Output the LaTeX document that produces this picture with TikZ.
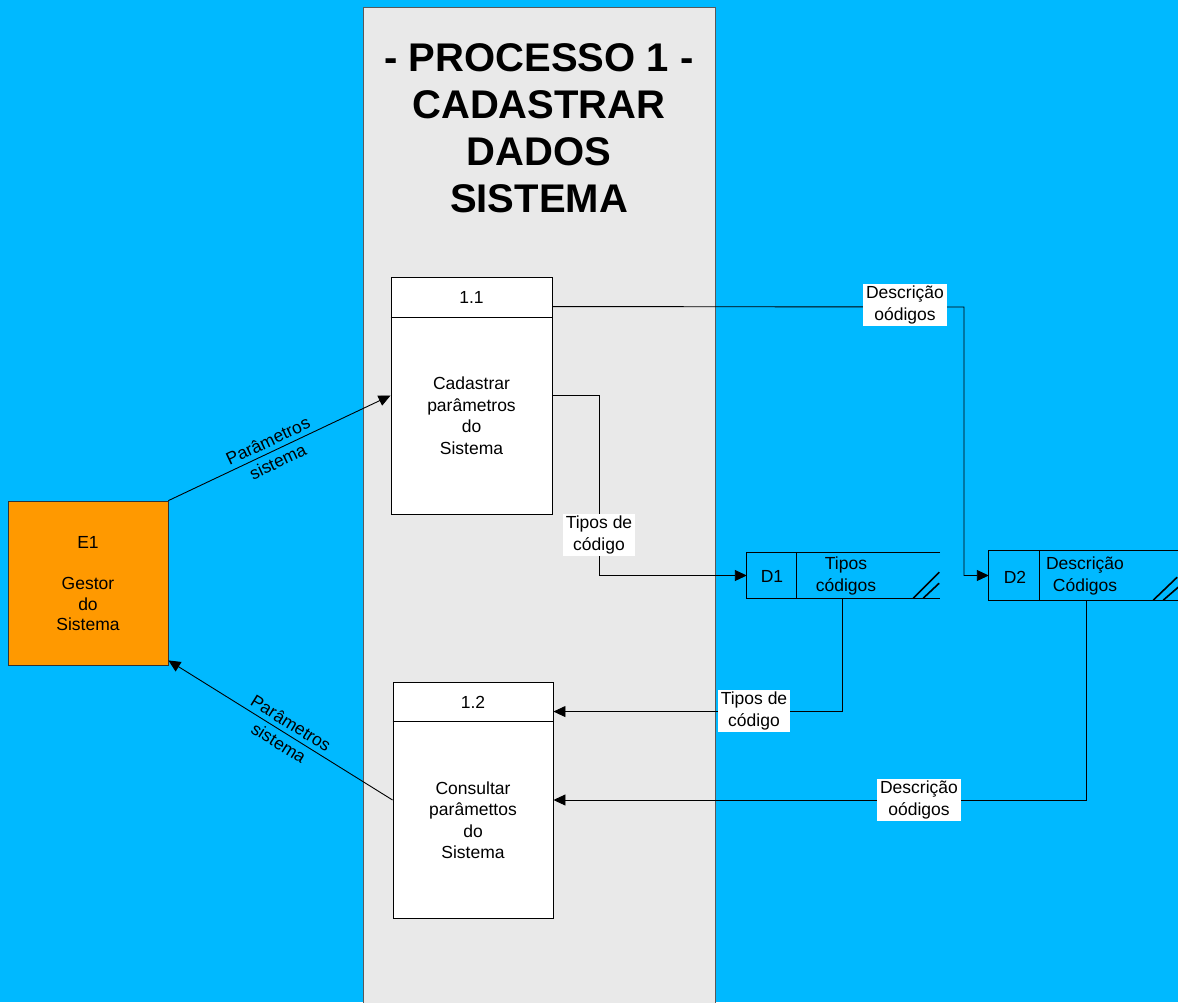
\documentclass[tikz,border=0pt]{standalone}
\usepackage{fontspec}
\setmainfont{Liberation Sans}
\usetikzlibrary{arrows.meta,calc}
\definecolor{sky}{RGB}{0,185,255}
\definecolor{panelgray}{RGB}{233,233,233}
\definecolor{entorange}{RGB}{255,153,0}
\begin{document}
\begin{tikzpicture}[x=1pt,y=1pt,
  txt/.style={font=\fontsize{17.5}{21.5}\selectfont, align=center, inner sep=0pt},
  procbox/.style={draw=black, fill=white, line width=0.9pt, minimum width=161pt, minimum height=237pt, inner sep=0pt},
  flow/.style={draw=black, line width=0.9pt, -{Triangle[length=12pt,width=11pt]}},
  flowlabel/.style={txt, fill=white, inner xsep=3pt, inner ysep=2pt},
  slopelabel/.style={txt, sloped, font=\fontsize{17.5}{23}\selectfont},
  storeline/.style={draw=black, line width=1.3pt},
  hatch/.style={draw=black, line width=1.6pt}
]
\useasboundingbox (0,0) rectangle (1178,-1002);
\fill[sky] (0,0) rectangle (1178,-1002);

% process panel with its title
\draw[fill=panelgray, draw=black!65, line width=1pt] (363,-7) rectangle (715,-1012);
\node[font=\fontsize{40}{47}\selectfont\bfseries, align=center, inner sep=0pt] (title) at (539,-128.5)
  {- PROCESSO 1 -\\CADASTRAR\\DADOS\\SISTEMA};

% process 1.1
\node[procbox] (p11) at (471.5,-395.5) {};
\draw[line width=0.9pt] ($(p11.north west)+(0,-41)$) -- ($(p11.north east)+(0,-41)$);
\node[txt] (p11num) at ($(p11.north)+(0,-21)$) {1.1};
\node[txt] (p11txt) at (471.5,-415.5) {Cadastrar\\parâmetros\\do\\Sistema};

% process 1.2
\node[procbox, minimum width=160pt, minimum height=236pt] (p12) at (473,-800) {};
\draw[line width=0.9pt] ($(p12.north west)+(0,-40)$) -- ($(p12.north east)+(0,-40)$);
\node[txt] (p12num) at ($(p12.north)+(0,-21)$) {1.2};
\node[txt] (p12txt) at (473,-820) {Consultar\\parâmettos\\do\\Sistema};

% external entity E1
\node[draw=black!80, fill=entorange, line width=0.8pt, minimum width=160pt, minimum height=164pt, inner sep=0pt] (e1) at (88,-583) {};
\node[txt, font=\fontsize{17.5}{20.5}\selectfont] (e1txt) at (88,-584) {E1\\\mbox{}\\Gestor\\do\\Sistema};

% data store D1
\node[minimum width=193pt, minimum height=45pt, inner sep=0pt] (d1) at (843.5,-575.5) {};
\draw[storeline] (d1.north east) -- (d1.north west) -- (d1.south west) -- (d1.south east);
\draw[storeline] ($(d1.north west)+(50,0)$) -- ($(d1.south west)+(50,0)$);
\draw[hatch] ($(d1.south east)+(-27,0)$) -- ($(d1.south east)+(-1,26)$);
\draw[hatch] ($(d1.south east)+(-17,0)$) -- ($(d1.south east)+(-1,15)$);
\node[txt] (d1id) at (772,-576) {D1};
\node[txt] (d1txt) at (846,-576) {Tipos\\códigos};

% data store D2
\node[minimum width=190pt, minimum height=49pt, inner sep=0pt] (d2) at (1084,-575.5) {};
\draw[storeline] (d2.north east) -- (d2.north west) -- (d2.south west) -- (d2.south east);
\draw[storeline] ($(d2.north west)+(51,0)$) -- ($(d2.south west)+(51,0)$);
\draw[hatch] ($(d2.south east)+(-26,0)$) -- ($(d2.south east)+(-2,23)$);
\draw[hatch] ($(d2.south east)+(-16,0)$) -- ($(d2.south east)+(-1,13)$);
\node[txt] (d2id) at (1015,-577) {D2};
\node[txt] (d2txt) at (1085,-576) {Descrição\\Códigos};

% flows between entity and processes
\draw[flow] (e1.north east) -- (p11.west)
  node[slopelabel, pos=0.47] (f1) {Parâmetros\\sistema};
\draw[flow] (p12.west) -- ([yshift=5pt]e1.south east)
  node[slopelabel, pos=0.48] (f2) {Parâmetros\\sistema};

% flows between processes and data stores
\coordinate (b1) at (964,-307);
\coordinate (b2) at (599,-395.5);
\draw[flow] ($(p11.north east)+(0,-30)$) -- (b1) |- (d2.west);
\node[flowlabel] (f3) at (905,-305) {Descrição\\oódigos};

\draw[flow] (p11.east) -- (b2) |- (d1.west);
\node[flowlabel] (f4) at (599,-535) {Tipos de\\código};

\draw[flow] ($(d1.south)+(-1.5,0)$) |- ($(p12.north east)+(0,-30)$);
\node[flowlabel] (f5) at (754,-711) {Tipos de\\código};

\draw[flow] ($(d2.south)+(2,0)$) |- (p12.east);
\node[flowlabel] (f6) at (919,-800) {Descrição\\oódigos};
\end{tikzpicture}
\end{document}
